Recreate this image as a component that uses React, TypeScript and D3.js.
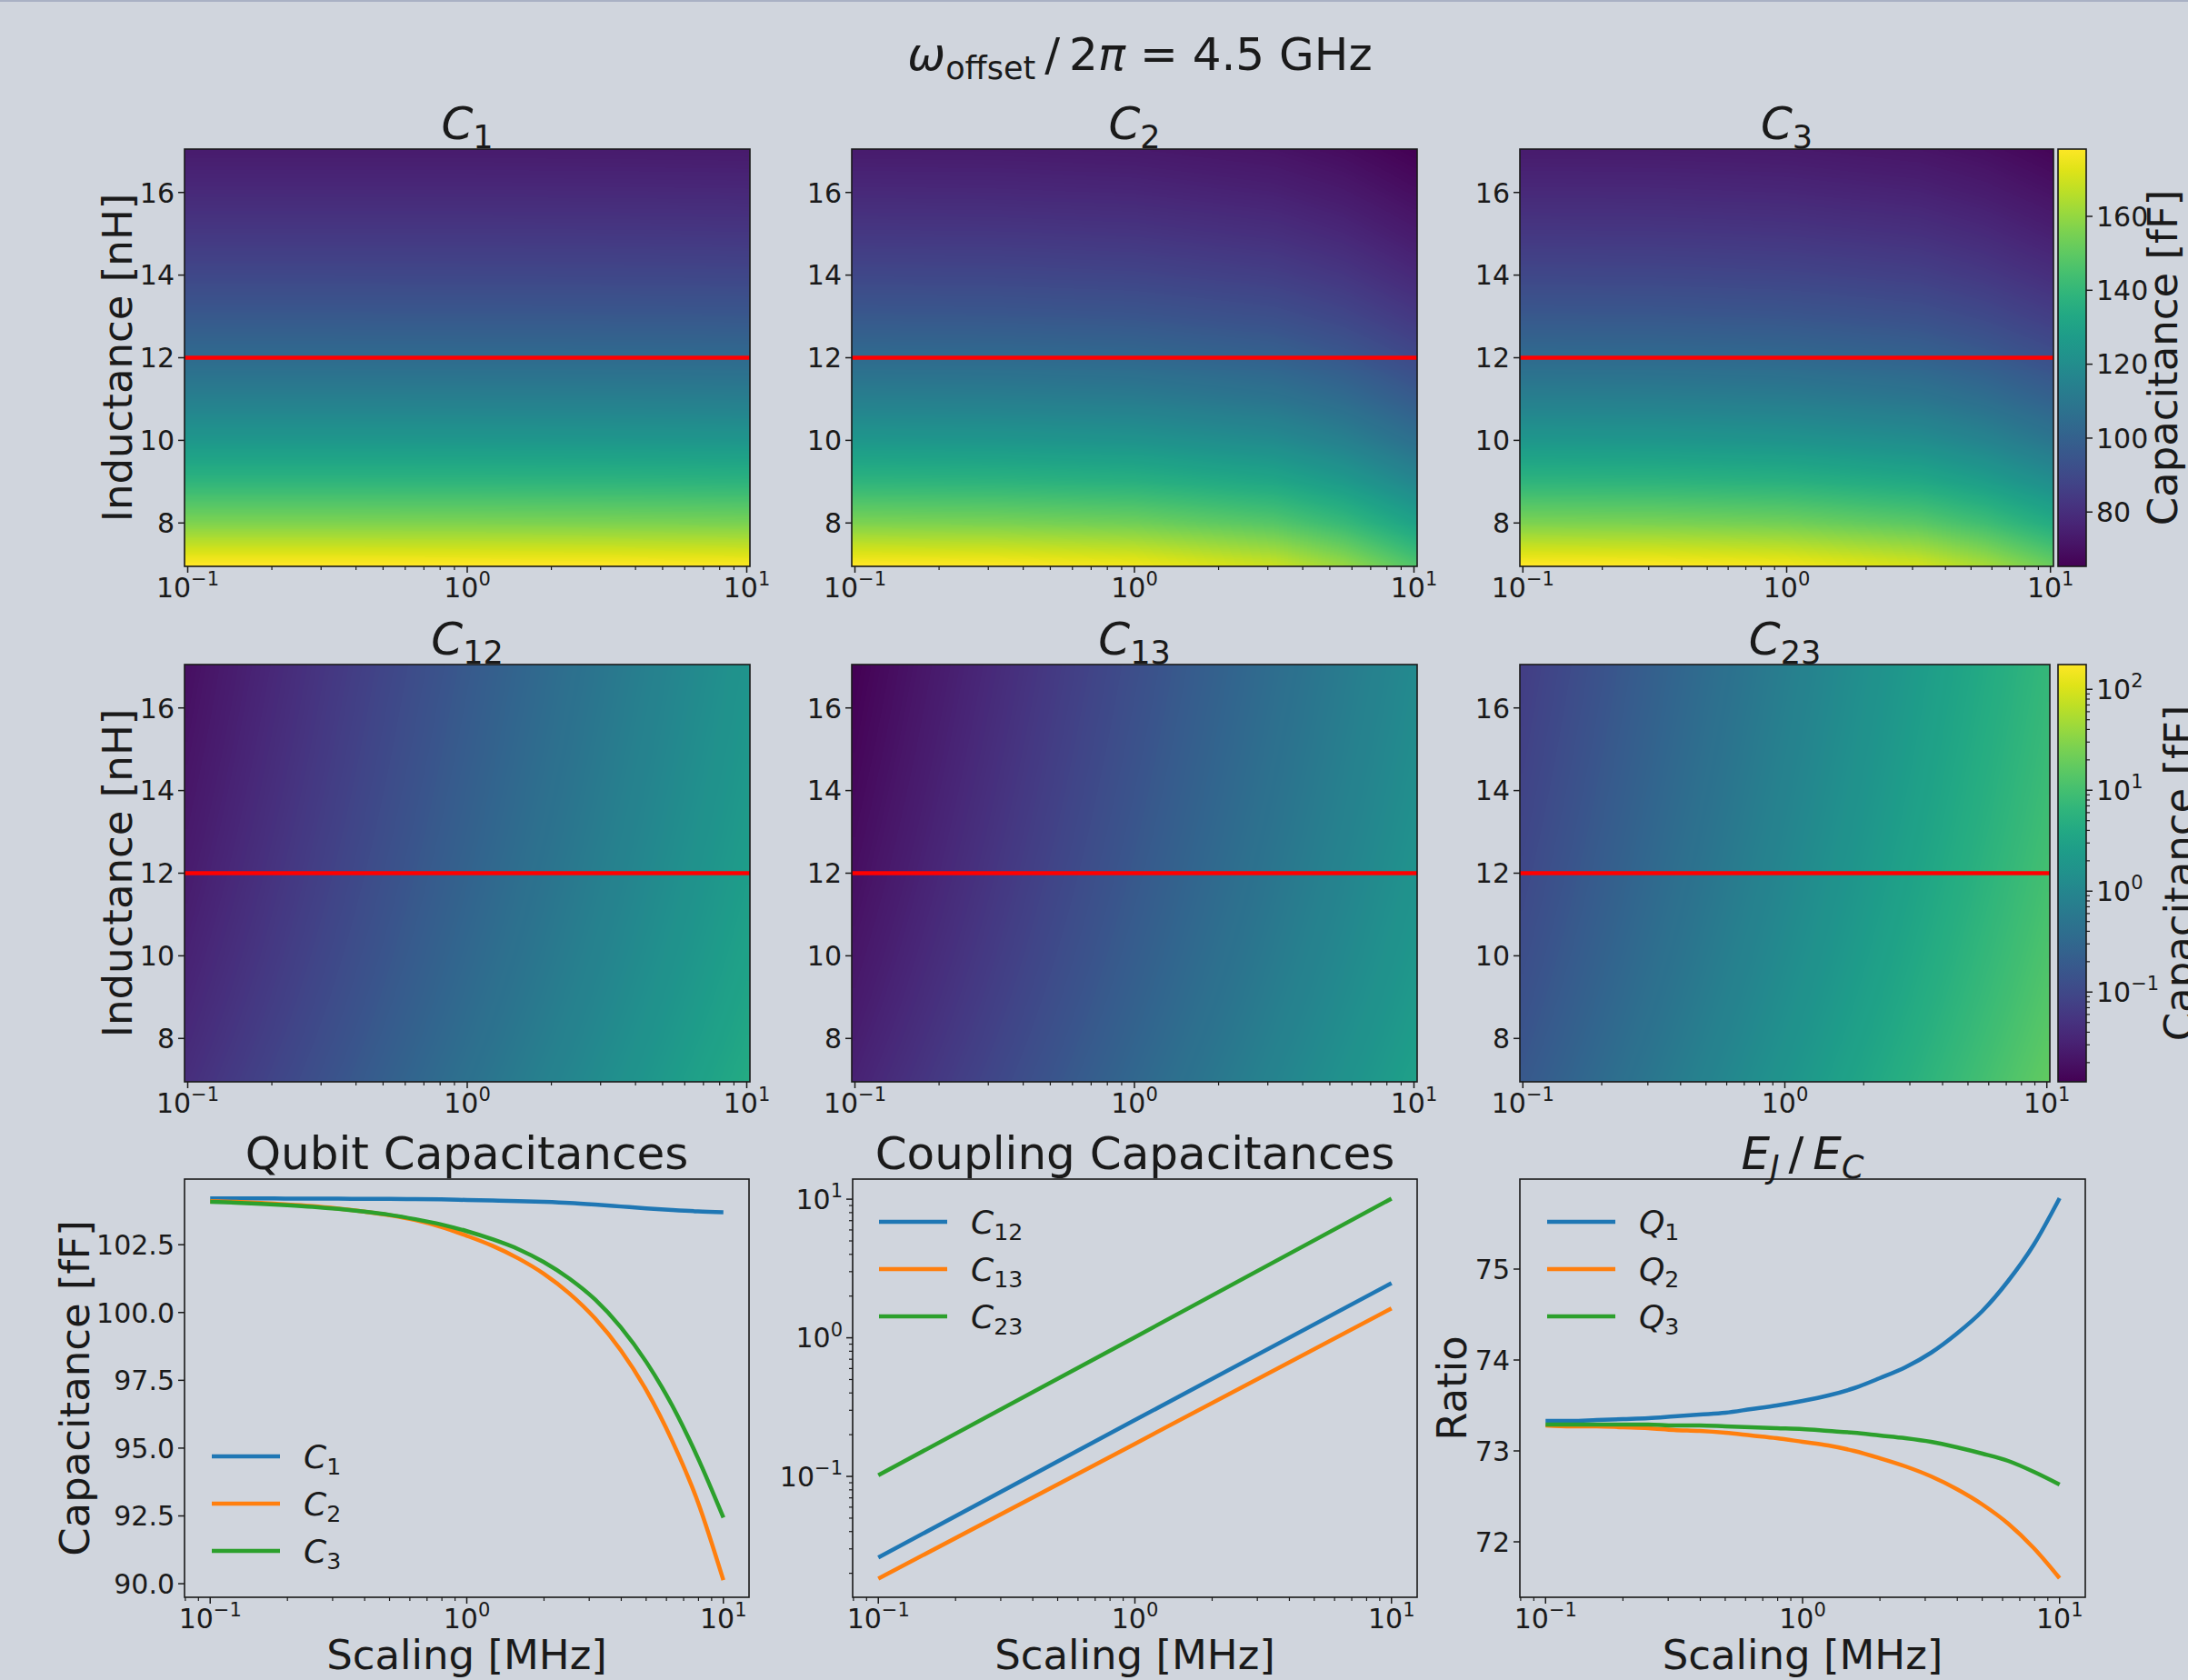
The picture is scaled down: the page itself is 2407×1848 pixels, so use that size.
import React, { useMemo } from "react";
import * as d3 from "d3";

const FIG_W = 2407;
const FIG_H = 1848;
const BG = "#d0d5dd";
const FONT = "'DejaVu Sans', sans-serif";
const INK = "#1a1a1a";
const TAB = ["#1f77b4", "#ff7f0e", "#2ca02c"];

// ---- heatmap grids: rows = inductance [nH], columns = log10(scaling [MHz]) ----
const gridLogScaling = [-1, -0.5, 0, 0.5, 0.75, 1];
const gridInductance = [7, 8, 9, 10, 11, 12, 13, 14, 15, 16, 17];
const markedInductance = 12;

const mapC1 = [
  [178.6, 178.6, 178.4, 178.2, 177.8, 177.5],
  [156.3, 156.3, 156.2, 155.9, 155.7, 155.4],
  [138.9, 138.9, 138.8, 138.6, 138.4, 138.1],
  [125.0, 125.0, 124.9, 124.7, 124.5, 124.3],
  [113.7, 113.7, 113.6, 113.5, 113.3, 113.1],
  [104.2, 104.2, 104.1, 104.0, 103.9, 103.7],
  [96.2, 96.2, 96.1, 96.0, 95.9, 95.8],
  [89.3, 89.3, 89.2, 89.1, 89.0, 88.9],
  [83.4, 83.4, 83.4, 83.3, 83.2, 83.0],
  [78.2, 78.2, 78.2, 78.1, 78.0, 77.9],
  [73.6, 73.6, 73.6, 73.5, 73.4, 73.3],
];
const mapC2 = [
  [178.4, 177.7, 175.4, 168.7, 160.2, 147.0],
  [156.1, 155.5, 153.7, 148.2, 141.2, 130.5],
  [138.7, 138.2, 136.7, 132.1, 126.3, 117.3],
  [124.9, 124.4, 123.1, 119.2, 114.2, 106.5],
  [113.6, 113.2, 112.1, 108.6, 104.4, 97.7],
  [104.1, 103.8, 102.8, 99.8, 96.0, 90.1],
  [96.1, 95.8, 94.9, 92.3, 88.9, 83.7],
  [89.2, 89.0, 88.2, 85.8, 82.8, 78.1],
  [83.3, 83.1, 82.4, 80.2, 77.5, 73.3],
  [78.1, 77.9, 77.3, 75.3, 72.9, 69.1],
  [73.5, 73.4, 72.8, 71.0, 68.7, 65.3],
];
const mapC3 = [
  [178.4, 177.8, 175.8, 170.2, 162.9, 152.2],
  [156.1, 155.6, 154.0, 149.4, 143.4, 134.7],
  [138.7, 138.3, 137.0, 133.1, 128.1, 120.8],
  [124.9, 124.5, 123.3, 120.1, 115.8, 109.5],
  [113.6, 113.3, 112.3, 109.4, 105.7, 100.3],
  [104.1, 103.8, 102.9, 100.4, 97.2, 92.4],
  [96.1, 95.9, 95.1, 92.9, 90.0, 85.8],
  [89.2, 89.0, 88.3, 86.3, 83.7, 80.0],
  [83.3, 83.1, 82.5, 80.7, 78.4, 75.0],
  [78.1, 78.0, 77.4, 75.8, 73.7, 70.6],
  [73.5, 73.4, 72.9, 71.4, 69.5, 66.6],
];
const mapC12 = [
  [0.0446, 0.139, 0.435, 1.354, 2.417, 4.25],
  [0.039, 0.1215, 0.381, 1.185, 2.115, 3.72],
  [0.0347, 0.108, 0.339, 1.053, 1.88, 3.31],
  [0.0312, 0.0972, 0.305, 0.948, 1.692, 2.98],
  [0.0284, 0.0884, 0.277, 0.862, 1.538, 2.71],
  [0.026, 0.081, 0.254, 0.79, 1.41, 2.48],
  [0.024, 0.0748, 0.234, 0.729, 1.301, 2.29],
  [0.0223, 0.0694, 0.218, 0.677, 1.208, 2.125],
  [0.0208, 0.0648, 0.203, 0.632, 1.128, 1.984],
  [0.0195, 0.0608, 0.191, 0.593, 1.058, 1.86],
  [0.0184, 0.0572, 0.179, 0.558, 0.995, 1.751],
];
const mapC13 = [
  [0.0314, 0.096, 0.2965, 0.908, 1.594, 2.794],
  [0.0275, 0.084, 0.2595, 0.795, 1.395, 2.445],
  [0.0244, 0.0747, 0.2306, 0.7065, 1.24, 2.173],
  [0.022, 0.0672, 0.2076, 0.636, 1.116, 1.956],
  [0.02, 0.0611, 0.1887, 0.578, 1.015, 1.778],
  [0.0183, 0.056, 0.173, 0.53, 0.93, 1.63],
  [0.0169, 0.0517, 0.1597, 0.489, 0.858, 1.505],
  [0.0157, 0.048, 0.1483, 0.454, 0.797, 1.397],
  [0.0146, 0.0448, 0.1384, 0.424, 0.744, 1.304],
  [0.0137, 0.042, 0.1298, 0.3975, 0.6975, 1.2225],
  [0.0129, 0.0395, 0.1221, 0.374, 0.657, 1.151],
];
const mapC23 = [
  [0.1748, 0.5536, 1.748, 5.485, 9.77, 17.31],
  [0.153, 0.4845, 1.53, 4.8, 8.55, 15.15],
  [0.136, 0.4306, 1.36, 4.266, 7.6, 13.46],
  [0.1224, 0.3876, 1.224, 3.84, 6.84, 12.12],
  [0.1113, 0.3524, 1.113, 3.491, 6.219, 11.02],
  [0.102, 0.323, 1.02, 3.2, 5.7, 10.1],
  [0.0941, 0.2981, 0.9415, 2.954, 5.261, 9.322],
  [0.0874, 0.2768, 0.8741, 2.742, 4.885, 8.656],
  [0.0816, 0.2584, 0.816, 2.56, 4.56, 8.08],
  [0.0765, 0.2423, 0.765, 2.4, 4.275, 7.575],
  [0.072, 0.228, 0.72, 2.259, 4.024, 7.131],
];

const qubitCapRange: [number, number] = [65.3, 178.2];
const couplingCapRange: [number, number] = [0.0129, 176];
const qubitCapTicks = [80, 100, 120, 140, 160];
const couplingCapTicks = [-1, 0, 1, 2];
const inductanceTicks = [8, 10, 12, 14, 16];

// ---- cuts along the red line (L = 12 nH), scaling in MHz ----
const scaling = [
  0.1, 0.126, 0.158, 0.2, 0.251, 0.316, 0.398, 0.501, 0.631, 0.794, 1,
  1.259, 1.585, 1.995, 2.512, 3.162, 3.981, 5.012, 6.31, 7.943, 10,
];
const qubitC1 = [
  104.21, 104.21, 104.21, 104.2, 104.2, 104.2, 104.19, 104.19, 104.18, 104.17, 104.15,
  104.13, 104.11, 104.08, 104.04, 103.98, 103.91, 103.84, 103.78, 103.73, 103.7,
];
const qubitC2 = [
  104.11, 104.08, 104.04, 103.98, 103.92, 103.83, 103.72, 103.59, 103.41, 103.16, 102.83,
  102.46, 102.0, 101.43, 100.7, 99.78, 98.61, 97.13, 95.28, 93.03, 90.13,
];
const qubitC3 = [
  104.08, 104.05, 104.01, 103.96, 103.9, 103.82, 103.72, 103.6, 103.44, 103.25, 103.0,
  102.7, 102.34, 101.86, 101.25, 100.48, 99.46, 98.17, 96.58, 94.65, 92.44,
];

const couplingScaling = [0.1, 1, 10];
const couplingC12 = [0.026, 0.255, 2.48];
const couplingC13 = [0.0183, 0.172, 1.63];
const couplingC23 = [0.102, 1.01, 10.1];

const ratioQ1 = [
  73.33, 73.33, 73.34, 73.35, 73.36, 73.38, 73.4, 73.42, 73.46, 73.5, 73.55,
  73.61, 73.69, 73.8, 73.92, 74.08, 74.29, 74.54, 74.87, 75.27, 75.78,
];
const ratioQ2 = [
  73.28, 73.27, 73.27, 73.26, 73.25, 73.23, 73.22, 73.2, 73.17, 73.14, 73.1,
  73.06, 73.0, 72.92, 72.83, 72.72, 72.58, 72.41, 72.2, 71.93, 71.6,
];
const ratioQ3 = [
  73.29, 73.29, 73.29, 73.29, 73.29, 73.28, 73.28, 73.27, 73.26, 73.25, 73.24,
  73.22, 73.2, 73.17, 73.14, 73.1, 73.04, 72.97, 72.89, 72.77, 72.63,
];

const qubitTicks = [90, 92.5, 95, 97.5, 100, 102.5];
const ratioTicks = [72, 73, 74, 75];
const decades = [-1, 0, 1];

// layout
const heatX: [number, number][] = [[203, 825], [937, 1559], [1672, 2259]];
const heatX2: [number, number][] = [[203, 825], [937, 1559], [1672, 2255]];
const heatY: [number, number][] = [[164, 623], [731, 1190]];
const lineX: [number, number][] = [[203, 824], [938, 1559], [1672, 2294]];
const lineY: [number, number] = [1297, 1757];
const CBAR_X: [number, number] = [2264, 2295];

const HEAT_XDOM: [number, number] = [10 ** -1.0114, 10 ** 1.0114];
const HEAT_LDOM: [number, number] = [6.95, 17.05];

const TFS = 30; // tick font
const LFS = 45; // axis label font
const TITLE_FS = 50;
const LEG_FS = 36;

function minorLogTicks(dom: number[]) {
  const out: number[] = [];
  const lo = Math.floor(Math.log10(dom[0]));
  const hi = Math.ceil(Math.log10(dom[1]));
  for (let d = lo; d <= hi; d++) {
    for (let k = 2; k <= 9; k++) {
      const v = k * 10 ** d;
      if (v >= dom[0] && v <= dom[1]) out.push(v);
    }
  }
  return out;
}

const expStr = (e: number) => (e < 0 ? "\u2212" + Math.abs(e) : String(e));

function Pow({ x, y, e, anchor }: { x: number; y: number; e: number; anchor: string }) {
  return (
    <text x={x} y={y} fontSize={TFS} textAnchor={anchor as any} fill={INK}>
      10
      <tspan fontSize={TFS * 0.7} dy={-TFS * 0.42}>{expStr(e)}</tspan>
    </text>
  );
}

function XLogAxis({ scale, y }: { scale: any; y: number }) {
  return (
    <g>
      {minorLogTicks(scale.domain()).map((v) => (
        <line key={"m" + v} x1={scale(v)} x2={scale(v)} y1={y} y2={y + 4} stroke={INK} strokeWidth={1.2} />
      ))}
      {decades.map((e) => (
        <g key={e}>
          <line x1={scale(10 ** e)} x2={scale(10 ** e)} y1={y} y2={y + 7} stroke={INK} strokeWidth={1.5} />
          <Pow x={scale(10 ** e)} y={y + 34} e={e} anchor="middle" />
        </g>
      ))}
    </g>
  );
}

function YLinAxis({ scale, x, ticks, fmt }: { scale: any; x: number; ticks: number[]; fmt: (v: number) => string }) {
  return (
    <g>
      {ticks.map((v) => (
        <g key={v}>
          <line x1={x - 7} x2={x} y1={scale(v)} y2={scale(v)} stroke={INK} strokeWidth={1.5} />
          <text x={x - 11} y={scale(v)} dy="0.36em" fontSize={TFS} textAnchor="end" fill={INK}>
            {fmt(v)}
          </text>
        </g>
      ))}
    </g>
  );
}

function MathTitle({ x, y, base, sub, fs }: { x: number; y: number; base: string; sub: string; fs: number }) {
  return (
    <text x={x} y={y} fontSize={fs} textAnchor="middle" fill={INK}>
      <tspan fontStyle="italic">{base}</tspan>
      <tspan fontSize={fs * 0.7} dy={fs * 0.2}>{sub}</tspan>
    </text>
  );
}

// colour the heatmap grid into an image (bilinear between grid nodes)
function heatImage(grid: number[][], w: number, h: number, logValues: boolean, range: [number, number]) {
  const lut = d3.range(256).map((i) => d3.rgb(d3.interpolateViridis(i / 255)));
  const norm: any = logValues
    ? d3.scaleLog().domain(range).range([0, 1]).clamp(true)
    : d3.scaleLinear().domain(range).range([0, 1]).clamp(true);
  const vals = logValues ? grid.map((r) => r.map(Math.log10)) : grid;
  const px = d3.scaleLinear().domain([0, w]).range([Math.log10(HEAT_XDOM[0]), Math.log10(HEAT_XDOM[1])]);
  const py = d3.scaleLinear().domain([0, h]).range([HEAT_LDOM[1], HEAT_LDOM[0]]);
  const cv = document.createElement("canvas");
  cv.width = w;
  cv.height = h;
  const ctx = cv.getContext("2d")!;
  const img = ctx.createImageData(w, h);
  const nr = gridInductance.length;
  const nc = gridLogScaling.length;
  for (let j = 0; j < h; j++) {
    const L = Math.max(7, Math.min(17, py(j + 0.5)));
    const r = Math.min(nr - 2, Math.max(0, d3.bisectRight(gridInductance, L) - 1));
    const fy = (L - gridInductance[r]) / (gridInductance[r + 1] - gridInductance[r]);
    for (let i = 0; i < w; i++) {
      const lx = Math.max(-1, Math.min(1, px(i + 0.5)));
      const c = Math.min(nc - 2, Math.max(0, d3.bisectRight(gridLogScaling, lx) - 1));
      const fx = (lx - gridLogScaling[c]) / (gridLogScaling[c + 1] - gridLogScaling[c]);
      const a = vals[r][c] * (1 - fx) + vals[r][c + 1] * fx;
      const b = vals[r + 1][c] * (1 - fx) + vals[r + 1][c + 1] * fx;
      const v = a * (1 - fy) + b * fy;
      const t = norm(logValues ? 10 ** v : v);
      const col = lut[Math.round(t * 255)];
      const k = (j * w + i) * 4;
      img.data[k] = col.r;
      img.data[k + 1] = col.g;
      img.data[k + 2] = col.b;
      img.data[k + 3] = 255;
    }
  }
  ctx.putImageData(img, 0, 0);
  return cv.toDataURL();
}

function HeatPanel({ xr, yr, grid, logValues, range, title, sub }: any) {
  const [x0, x1] = xr;
  const [y0, y1] = yr;
  const url = useMemo(() => heatImage(grid, Math.round(x1 - x0), Math.round(y1 - y0), logValues, range), [grid, x0, x1, y0, y1]);
  const xs = d3.scaleLog().domain(HEAT_XDOM).range([x0, x1]);
  const ys = d3.scaleLinear().domain(HEAT_LDOM).range([y1, y0]);
  return (
    <g>
      <image href={url} x={x0} y={y0} width={x1 - x0} height={y1 - y0} preserveAspectRatio="none" />
      <line x1={x0} x2={x1} y1={ys(markedInductance)} y2={ys(markedInductance)} stroke="#ff0000" strokeWidth={4.5} />
      <rect x={x0} y={y0} width={x1 - x0} height={y1 - y0} fill="none" stroke={INK} strokeWidth={1.6} />
      <YLinAxis scale={ys} x={x0} ticks={inductanceTicks} fmt={(v) => String(v)} />
      <XLogAxis scale={xs} y={y1} />
      <MathTitle x={(x0 + x1) / 2} y={y0 - 11} base={title} sub={sub} fs={TITLE_FS} />
    </g>
  );
}

function Colorbar({ yr, logValues, range, gid }: any) {
  const [y0, y1] = yr;
  const [x0, x1] = CBAR_X;
  const stops = d3.range(0, 1.0001, 0.05);
  const s: any = logValues ? d3.scaleLog().domain(range).range([y1, y0]) : d3.scaleLinear().domain(range).range([y1, y0]);
  return (
    <g>
      <defs>
        <linearGradient id={gid} x1="0" y1="1" x2="0" y2="0">
          {stops.map((t) => (
            <stop key={t} offset={t} stopColor={d3.interpolateViridis(t)} />
          ))}
        </linearGradient>
      </defs>
      <rect x={x0} y={y0} width={x1 - x0} height={y1 - y0} fill={`url(#${gid})`} stroke={INK} strokeWidth={1.6} />
      {logValues
        ? (
          <g>
            {minorLogTicks(range).map((v) => (
              <line key={v} x1={x1} x2={x1 + 4} y1={s(v)} y2={s(v)} stroke={INK} strokeWidth={1.2} />
            ))}
            {couplingCapTicks.map((e) => (
              <g key={e}>
                <line x1={x1} x2={x1 + 7} y1={s(10 ** e)} y2={s(10 ** e)} stroke={INK} strokeWidth={1.5} />
                <Pow x={x1 + 11} y={s(10 ** e) + TFS * 0.36} e={e} anchor="start" />
              </g>
            ))}
          </g>
        )
        : qubitCapTicks.map((v) => (
          <g key={v}>
            <line x1={x1} x2={x1 + 7} y1={s(v)} y2={s(v)} stroke={INK} strokeWidth={1.5} />
            <text x={x1 + 11} y={s(v)} dy="0.36em" fontSize={TFS} fill={INK}>{v}</text>
          </g>
        ))}
    </g>
  );
}

function Legend({ x, y, labels, sym }: { x: number; y: number; labels: string[]; sym: string }) {
  return (
    <g>
      {labels.map((lab, i) => (
        <g key={lab}>
          <line x1={x} x2={x + 75} y1={y + i * 52} y2={y + i * 52} stroke={TAB[i]} strokeWidth={4.5} />
          <text x={x + 101} y={y + i * 52} dy="0.36em" fontSize={LEG_FS} fill={INK}>
            <tspan fontStyle="italic">{sym}</tspan>
            <tspan fontSize={LEG_FS * 0.7} dy={LEG_FS * 0.2}>{lab}</tspan>
          </text>
        </g>
      ))}
    </g>
  );
}

function LinePanel({ xr, ys, series, xsData, yAxis }: any) {
  const [x0, x1] = xr;
  const [y0, y1] = lineY;
  const xs = d3.scaleLog().domain([10 ** -1.1, 10 ** 1.1]).range([x0, x1]);
  const line = d3
    .line<number>()
    .x((_, i) => xs(xsData[i]))
    .y((d) => ys(d))
    .curve(d3.curveMonotoneX);
  return (
    <g>
      <rect x={x0} y={y0} width={x1 - x0} height={y1 - y0} fill="none" stroke={INK} strokeWidth={1.6} />
      {series.map((d: number[], i: number) => (
        <path key={i} d={line(d) || ""} fill="none" stroke={TAB[i]} strokeWidth={4.5} strokeLinecap="butt" />
      ))}
      {yAxis}
      <XLogAxis scale={xs} y={y1} />
      <text x={(x0 + x1) / 2} y={1836} fontSize={LFS} textAnchor="middle" fill={INK}>Scaling [MHz]</text>
    </g>
  );
}

function RotLabel({ x, y, text }: { x: number; y: number; text: string }) {
  return (
    <text transform={`translate(${x},${y}) rotate(-90)`} fontSize={LFS} textAnchor="middle" fill={INK}>
      {text}
    </text>
  );
}

export default function App() {
  const qY = d3.scaleLinear().domain([89.5, 104.92]).range([lineY[1], lineY[0]]);
  const cY = d3.scaleLog().domain([10 ** -1.872, 10 ** 1.145]).range([lineY[1], lineY[0]]);
  const rY = d3.scaleLinear().domain([71.39, 75.99]).range([lineY[1], lineY[0]]);

  const row1 = [
    { grid: mapC1, sub: "1" },
    { grid: mapC2, sub: "2" },
    { grid: mapC3, sub: "3" },
  ];
  const row2 = [
    { grid: mapC12, sub: "12" },
    { grid: mapC13, sub: "13" },
    { grid: mapC23, sub: "23" },
  ];

  return (
    <svg
      width={FIG_W}
      height={FIG_H}
      viewBox={`0 0 ${FIG_W} ${FIG_H}`}
      style={{ position: "absolute", left: 0, top: 0, fontFamily: FONT, background: BG }}
    >
      <rect x={0} y={0} width={FIG_W} height={FIG_H} fill={BG} />
      <rect x={0} y={0} width={FIG_W} height={2} fill="#a9b1c4" />

      <text x={1254} y={77} fontSize={TITLE_FS} textAnchor="middle" fill={INK}>
        <tspan fontStyle="italic">ω</tspan>
        <tspan fontSize={TITLE_FS * 0.7} dy={10}>offset</tspan>
        <tspan dy={-10}>{"\u2009/\u2009"}2</tspan>
        <tspan fontStyle="italic">π</tspan>
        <tspan>{" = 4.5 GHz"}</tspan>
      </text>

      {row1.map((p, i) => (
        <HeatPanel key={"a" + i} xr={heatX[i]} yr={heatY[0]} grid={p.grid} logValues={false} range={qubitCapRange} title="C" sub={p.sub} />
      ))}
      {row2.map((p, i) => (
        <HeatPanel key={"b" + i} xr={heatX2[i]} yr={heatY[1]} grid={p.grid} logValues={true} range={couplingCapRange} title="C" sub={p.sub} />
      ))}
      <Colorbar yr={heatY[0]} logValues={false} range={qubitCapRange} gid="cb1" />
      <Colorbar yr={heatY[1]} logValues={true} range={couplingCapRange} gid="cb2" />
      <RotLabel x={145} y={(heatY[0][0] + heatY[0][1]) / 2} text="Inductance [nH]" />
      <RotLabel x={145} y={(heatY[1][0] + heatY[1][1]) / 2} text="Inductance [nH]" />
      <RotLabel x={2395} y={(heatY[0][0] + heatY[0][1]) / 2} text="Capacitance [fF]" />
      <RotLabel x={2413} y={(heatY[1][0] + heatY[1][1]) / 2} text="Capacitance [fF]" />

      {/* bottom row */}
      <LinePanel
        xr={lineX[0]}
        ys={qY}
        xsData={scaling}
        series={[qubitC1, qubitC2, qubitC3]}
        yAxis={<YLinAxis scale={qY} x={lineX[0][0]} ticks={qubitTicks} fmt={(v) => v.toFixed(1)} />}
      />
      <text x={(lineX[0][0] + lineX[0][1]) / 2} y={1286} fontSize={TITLE_FS} textAnchor="middle" fill={INK}>Qubit Capacitances</text>
      <RotLabel x={98} y={1527} text="Capacitance [fF]" />
      <Legend x={233} y={1602} labels={["1", "2", "3"]} sym="C" />

      <LinePanel
        xr={lineX[1]}
        ys={cY}
        xsData={couplingScaling}
        series={[couplingC12, couplingC13, couplingC23]}
        yAxis={
          <g>
            {minorLogTicks(cY.domain()).map((v) => (
              <line key={v} x1={lineX[1][0] - 4} x2={lineX[1][0]} y1={cY(v)} y2={cY(v)} stroke={INK} strokeWidth={1.2} />
            ))}
            {decades.map((e) => (
              <g key={e}>
                <line x1={lineX[1][0] - 7} x2={lineX[1][0]} y1={cY(10 ** e)} y2={cY(10 ** e)} stroke={INK} strokeWidth={1.5} />
                <Pow x={lineX[1][0] - 11} y={cY(10 ** e) + TFS * 0.36} e={e} anchor="end" />
              </g>
            ))}
          </g>
        }
      />
      <text x={(lineX[1][0] + lineX[1][1]) / 2} y={1286} fontSize={TITLE_FS} textAnchor="middle" fill={INK}>Coupling Capacitances</text>
      <Legend x={967} y={1344} labels={["12", "13", "23"]} sym="C" />

      <LinePanel
        xr={lineX[2]}
        ys={rY}
        xsData={scaling}
        series={[ratioQ1, ratioQ2, ratioQ3]}
        yAxis={<YLinAxis scale={rY} x={lineX[2][0]} ticks={ratioTicks} fmt={(v) => String(v)} />}
      />
      <text x={(lineX[2][0] + lineX[2][1]) / 2} y={1286} fontSize={TITLE_FS} textAnchor="middle" fill={INK}>
        <tspan fontStyle="italic">E</tspan>
        <tspan fontStyle="italic" fontSize={TITLE_FS * 0.7} dy={10}>J</tspan>
        <tspan dy={-10}>{"\u2009/\u2009"}</tspan>
        <tspan fontStyle="italic">E</tspan>
        <tspan fontStyle="italic" fontSize={TITLE_FS * 0.7} dy={10}>C</tspan>
      </text>
      <RotLabel x={1613} y={1527} text="Ratio" />
      <Legend x={1702} y={1344} labels={["1", "2", "3"]} sym="Q" />
    </svg>
  );
}
